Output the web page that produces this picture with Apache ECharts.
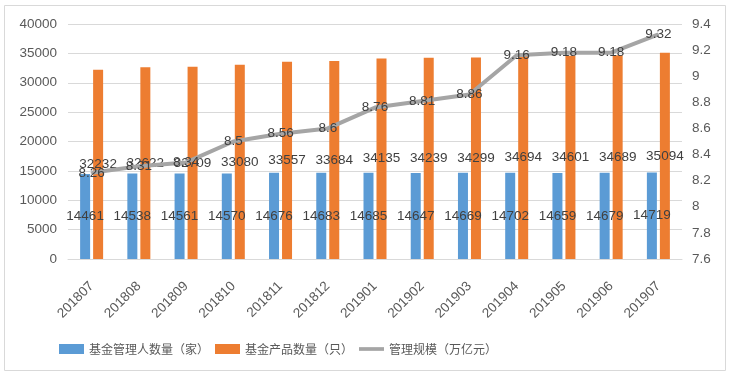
<!DOCTYPE html>
<html><head><meta charset="utf-8">
<script src="https://cdn.jsdelivr.net/npm/echarts@6/dist/echarts.min.js"></script>
<style>html,body{margin:0;padding:0;background:#fff}#c{width:732px;height:378px}</style>
</head><body><div id="c"></div>
<script>
const categories = ['201807','201808','201809','201810','201811','201812','201901','201902','201903','201904','201905','201906','201907'];
const managers = [14461,14538,14561,14570,14676,14683,14685,14647,14669,14702,14659,14679,14719];
const products = [32232,32622,32709,33080,33557,33684,34135,34239,34299,34694,34601,34689,35094];
const scale = [8.26,8.31,8.34,8.5,8.56,8.6,8.76,8.81,8.86,9.16,9.18,9.18,9.32];
const seriesNames = ['基金管理人数量（家）','基金产品数量（只）','管理规模（万亿元）'];

const FONT = '"Liberation Sans", Arial, sans-serif';
const labelStyle = {show:true, position:'inside', color:'#404040', fontSize:13.5, fontFamily:FONT};
const chart = echarts.init(document.getElementById('c'));
chart.setOption({
  animation:false,
  textStyle:{fontFamily:FONT},
  graphic:[{type:'rect', shape:{x:4.5,y:5.5,width:721,height:365}, style:{fill:'none', stroke:'#d9d9d9', lineWidth:1}, silent:true}],
  grid:{left:68, right:50, top:24, bottom:119},
  legend:{
    left:54, top:338, itemGap:6, itemWidth:25, itemHeight:10,
    textStyle:{fontSize:12, color:'#595959', fontFamily:'"Noto Sans CJK SC", sans-serif'},
    data:[
      {name:seriesNames[0], icon:'rect'},
      {name:seriesNames[1], icon:'rect'},
      {name:seriesNames[2], icon:'path://M0,0H27V4H0Z'}
    ]
  },
  xAxis:{
    type:'category', data:categories,
    axisLine:{lineStyle:{color:'#d9d9d9'}}, axisTick:{show:false},
    axisLabel:{rotate:45, color:'#595959', fontSize:13.5, margin:25, fontFamily:FONT}
  },
  yAxis:[
    {type:'value', min:0, max:40000, interval:5000,
     axisLine:{show:false}, axisTick:{show:false},
     splitLine:{lineStyle:{color:'#d9d9d9'}},
     axisLabel:{color:'#595959', fontSize:13.5, margin:11, fontFamily:FONT, formatter:v=>String(v)}},
    {type:'value', min:7.6, max:9.4, interval:0.2,
     axisLine:{show:false}, axisTick:{show:false}, splitLine:{show:false},
     axisLabel:{color:'#595959', fontSize:13.5, margin:10, fontFamily:FONT,
       formatter:v=>String(+v.toFixed(1))}}
  ],
  series:[
    {name:seriesNames[0], type:'bar', data:managers, barWidth:10, barGap:'30%',
     itemStyle:{color:'#5B9BD5'}, label:labelStyle},
    {name:seriesNames[1], type:'bar', data:products, barWidth:10, barGap:'30%',
     itemStyle:{color:'#ED7D31'}, label:labelStyle},
    {name:seriesNames[2], type:'line', yAxisIndex:1, data:scale,
     symbol:'circle', symbolSize:2, itemStyle:{color:'#A5A5A5'},
     lineStyle:{color:'#A5A5A5', width:4}, label:labelStyle, z:3}
  ]
});
</script></body></html>
